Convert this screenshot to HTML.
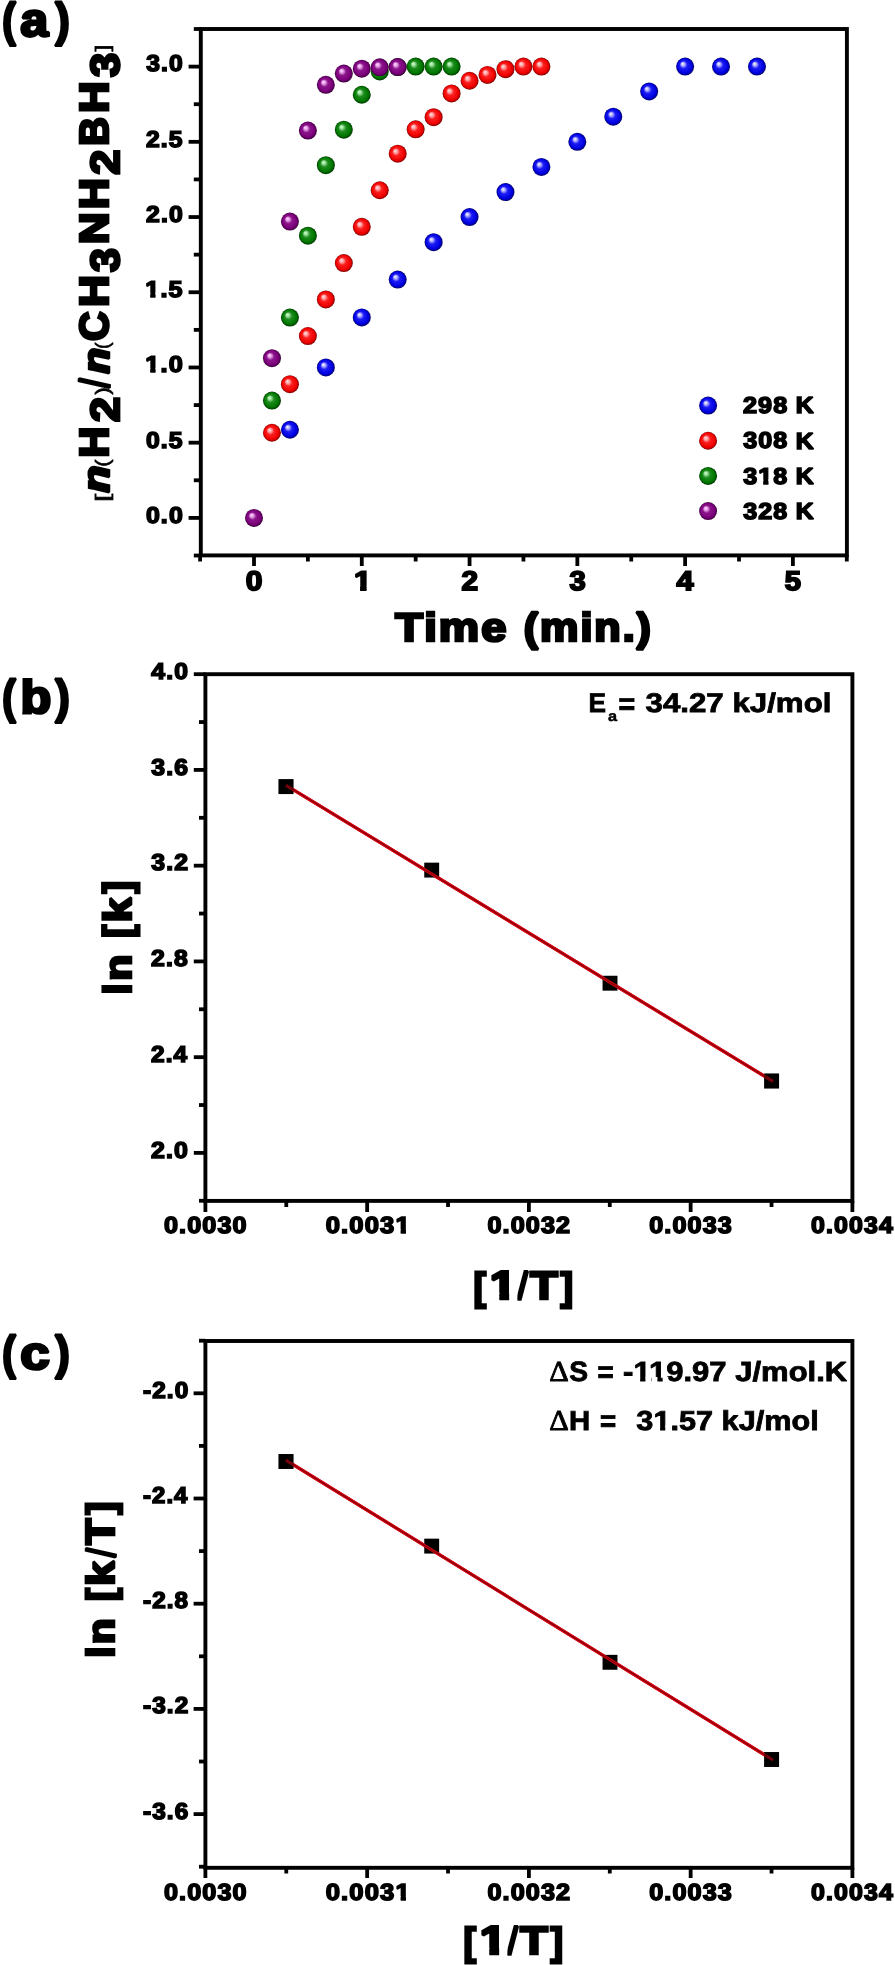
<!DOCTYPE html>
<html lang="en"><head><meta charset="utf-8"><title>Hydrogen generation kinetics: time course, Arrhenius and Eyring plots</title>
<style>
html,body{margin:0;padding:0;background:#fff}
svg{display:block}
text{stroke-linejoin:miter;stroke-miterlimit:1.5;white-space:pre}
</style></head>
<body>
<svg width="895" height="1965" viewBox="0 0 895 1965" text-rendering="geometricPrecision">
<rect width="895" height="1965" fill="#fff"/>
<filter id="soft" filterUnits="userSpaceOnUse" x="0" y="0" width="895" height="1965"><feGaussianBlur stdDeviation="0.5"/></filter>
<g filter="url(#soft)">
<defs>
<radialGradient id="gB" cx="50%" cy="50%" r="50%" fx="35%" fy="33%"><stop offset="0" stop-color="#f0f0ff"/><stop offset="0.13" stop-color="#d0d0ff"/><stop offset="0.27" stop-color="#8080ff"/><stop offset="0.42" stop-color="#1c1cf4"/><stop offset="0.8" stop-color="#0000e2"/><stop offset="0.92" stop-color="#00009c"/><stop offset="1" stop-color="#0c0c58"/></radialGradient>
<radialGradient id="gR" cx="50%" cy="50%" r="50%" fx="35%" fy="33%"><stop offset="0" stop-color="#ffd8dc"/><stop offset="0.13" stop-color="#ffc0c4"/><stop offset="0.27" stop-color="#ff8080"/><stop offset="0.42" stop-color="#fb2020"/><stop offset="0.8" stop-color="#f00000"/><stop offset="0.92" stop-color="#b40000"/><stop offset="1" stop-color="#6c0c0c"/></radialGradient>
<radialGradient id="gG" cx="50%" cy="50%" r="50%" fx="35%" fy="33%"><stop offset="0" stop-color="#c8ffc8"/><stop offset="0.13" stop-color="#b0f0b0"/><stop offset="0.27" stop-color="#70c070"/><stop offset="0.42" stop-color="#1c8c1c"/><stop offset="0.8" stop-color="#007600"/><stop offset="0.92" stop-color="#005000"/><stop offset="1" stop-color="#083408"/></radialGradient>
<radialGradient id="gP" cx="50%" cy="50%" r="50%" fx="35%" fy="33%"><stop offset="0" stop-color="#ffd0ff"/><stop offset="0.13" stop-color="#f8b8f8"/><stop offset="0.27" stop-color="#c878c8"/><stop offset="0.42" stop-color="#8c148c"/><stop offset="0.8" stop-color="#7a007a"/><stop offset="0.92" stop-color="#540054"/><stop offset="1" stop-color="#340834"/></radialGradient>
</defs>
<rect x="200.8" y="29.0" width="646.10" height="526.40" fill="none" stroke="#000" stroke-width="3.9"/>
<line x1="188.60" y1="517.90" x2="200.80" y2="517.90" stroke="#000" stroke-width="3.8"/>
<line x1="188.60" y1="442.68" x2="200.80" y2="442.68" stroke="#000" stroke-width="3.8"/>
<line x1="188.60" y1="367.47" x2="200.80" y2="367.47" stroke="#000" stroke-width="3.8"/>
<line x1="188.60" y1="292.25" x2="200.80" y2="292.25" stroke="#000" stroke-width="3.8"/>
<line x1="188.60" y1="217.04" x2="200.80" y2="217.04" stroke="#000" stroke-width="3.8"/>
<line x1="188.60" y1="141.82" x2="200.80" y2="141.82" stroke="#000" stroke-width="3.8"/>
<line x1="188.60" y1="66.61" x2="200.80" y2="66.61" stroke="#000" stroke-width="3.8"/>
<line x1="193.80" y1="555.51" x2="200.80" y2="555.51" stroke="#000" stroke-width="3.8"/>
<line x1="193.80" y1="480.29" x2="200.80" y2="480.29" stroke="#000" stroke-width="3.8"/>
<line x1="193.80" y1="405.08" x2="200.80" y2="405.08" stroke="#000" stroke-width="3.8"/>
<line x1="193.80" y1="329.86" x2="200.80" y2="329.86" stroke="#000" stroke-width="3.8"/>
<line x1="193.80" y1="254.65" x2="200.80" y2="254.65" stroke="#000" stroke-width="3.8"/>
<line x1="193.80" y1="179.43" x2="200.80" y2="179.43" stroke="#000" stroke-width="3.8"/>
<line x1="193.80" y1="104.22" x2="200.80" y2="104.22" stroke="#000" stroke-width="3.8"/>
<line x1="193.80" y1="29.00" x2="200.80" y2="29.00" stroke="#000" stroke-width="3.8"/>
<line x1="254.00" y1="555.40" x2="254.00" y2="566.00" stroke="#000" stroke-width="3.8"/>
<line x1="361.78" y1="555.40" x2="361.78" y2="566.00" stroke="#000" stroke-width="3.8"/>
<line x1="469.56" y1="555.40" x2="469.56" y2="566.00" stroke="#000" stroke-width="3.8"/>
<line x1="577.34" y1="555.40" x2="577.34" y2="566.00" stroke="#000" stroke-width="3.8"/>
<line x1="685.12" y1="555.40" x2="685.12" y2="566.00" stroke="#000" stroke-width="3.8"/>
<line x1="792.90" y1="555.40" x2="792.90" y2="566.00" stroke="#000" stroke-width="3.8"/>
<line x1="200.11" y1="555.40" x2="200.11" y2="561.50" stroke="#000" stroke-width="3.8"/>
<line x1="307.89" y1="555.40" x2="307.89" y2="561.50" stroke="#000" stroke-width="3.8"/>
<line x1="415.67" y1="555.40" x2="415.67" y2="561.50" stroke="#000" stroke-width="3.8"/>
<line x1="523.45" y1="555.40" x2="523.45" y2="561.50" stroke="#000" stroke-width="3.8"/>
<line x1="631.23" y1="555.40" x2="631.23" y2="561.50" stroke="#000" stroke-width="3.8"/>
<line x1="739.01" y1="555.40" x2="739.01" y2="561.50" stroke="#000" stroke-width="3.8"/>
<line x1="846.79" y1="555.40" x2="846.79" y2="561.50" stroke="#000" stroke-width="3.8"/>
<text transform="translate(145.88,522.74) scale(1.0829,1)" style="font-family:'Liberation Sans', sans-serif;font-size:23.01px;font-weight:bold;font-style:normal;letter-spacing:1.04px;" fill="#000" stroke="#000" stroke-width="1.56">0.0</text>
<text transform="translate(145.88,447.52) scale(1.0756,1)" style="font-family:'Liberation Sans', sans-serif;font-size:23.01px;font-weight:bold;font-style:normal;letter-spacing:1.04px;" fill="#000" stroke="#000" stroke-width="1.56">0.5</text>
<clipPath id="c1"><rect x="-60.00" y="-69.02" width="155.09" height="64.99"/><rect x="-60.00" y="2.38" width="155.09" height="43.63"/><rect x="-60.00" y="-4.03" width="59.87" height="6.41"/><rect x="4.59" y="-4.03" width="4.72" height="6.41"/><rect x="13.73" y="-4.03" width="81.36" height="6.41"/></clipPath>
<text transform="translate(145.24,372.31) scale(1.1016,1)" style="font-family:'Liberation Sans', sans-serif;font-size:23.01px;font-weight:bold;font-style:normal;letter-spacing:1.04px;" fill="#000" stroke="#000" stroke-width="1.56" clip-path="url(#c1)">1.0</text>
<clipPath id="c2"><rect x="-60.00" y="-69.02" width="155.09" height="64.99"/><rect x="-60.00" y="2.38" width="155.09" height="43.63"/><rect x="-60.00" y="-4.03" width="59.87" height="6.41"/><rect x="4.59" y="-4.03" width="4.72" height="6.41"/><rect x="13.73" y="-4.03" width="81.36" height="6.41"/></clipPath>
<text transform="translate(145.25,297.09) scale(1.0940,1)" style="font-family:'Liberation Sans', sans-serif;font-size:23.01px;font-weight:bold;font-style:normal;letter-spacing:1.04px;" fill="#000" stroke="#000" stroke-width="1.56" clip-path="url(#c2)">1.5</text>
<text transform="translate(146.00,221.88) scale(1.0793,1)" style="font-family:'Liberation Sans', sans-serif;font-size:23.01px;font-weight:bold;font-style:normal;letter-spacing:1.04px;" fill="#000" stroke="#000" stroke-width="1.56">2.0</text>
<text transform="translate(146.00,146.66) scale(1.0720,1)" style="font-family:'Liberation Sans', sans-serif;font-size:23.01px;font-weight:bold;font-style:normal;letter-spacing:1.04px;" fill="#000" stroke="#000" stroke-width="1.56">2.5</text>
<text transform="translate(146.25,71.45) scale(1.0720,1)" style="font-family:'Liberation Sans', sans-serif;font-size:23.01px;font-weight:bold;font-style:normal;letter-spacing:1.04px;" fill="#000" stroke="#000" stroke-width="1.56">3.0</text>
<text transform="translate(245.77,590.46) scale(1.1068,1)" style="font-family:'Liberation Sans', sans-serif;font-size:27.12px;font-weight:bold;font-style:normal;" fill="#000" stroke="#000" stroke-width="1.84">0</text>
<clipPath id="c3"><rect x="-60.00" y="-81.13" width="135.04" height="76.56"/><rect x="-60.00" y="2.52" width="135.04" height="51.57"/><rect x="-60.00" y="-4.58" width="59.98" height="7.10"/><rect x="5.39" y="-4.58" width="5.55" height="7.10"/><rect x="16.00" y="-4.58" width="59.04" height="7.10"/></clipPath>
<text transform="translate(353.89,590.33) scale(1.1561,1)" style="font-family:'Liberation Sans', sans-serif;font-size:27.04px;font-weight:bold;font-style:normal;" fill="#000" stroke="#000" stroke-width="1.84" clip-path="url(#c3)">1</text>
<text transform="translate(461.48,590.46) scale(1.0969,1)" style="font-family:'Liberation Sans', sans-serif;font-size:27.12px;font-weight:bold;font-style:normal;" fill="#000" stroke="#000" stroke-width="1.84">2</text>
<text transform="translate(569.55,590.46) scale(1.0776,1)" style="font-family:'Liberation Sans', sans-serif;font-size:27.12px;font-weight:bold;font-style:normal;" fill="#000" stroke="#000" stroke-width="1.84">3</text>
<text transform="translate(676.50,590.46) scale(1.1280,1)" style="font-family:'Liberation Sans', sans-serif;font-size:27.12px;font-weight:bold;font-style:normal;" fill="#000" stroke="#000" stroke-width="1.84">4</text>
<text transform="translate(784.82,590.46) scale(1.0776,1)" style="font-family:'Liberation Sans', sans-serif;font-size:27.12px;font-weight:bold;font-style:normal;" fill="#000" stroke="#000" stroke-width="1.84">5</text>
<text fill="#000" stroke="#000"><tspan x="395.29" y="640.69" textLength="113.12" lengthAdjust="spacingAndGlyphs" style="font-family:'Liberation Sans', sans-serif;font-size:39.97px;font-weight:bold;font-style:normal;letter-spacing:1.80px;" stroke-width="2.72">Time</tspan> <tspan x="523.72" y="640.69" textLength="129.22" lengthAdjust="spacingAndGlyphs" style="font-family:'Liberation Sans', sans-serif;font-size:39.97px;font-weight:bold;font-style:normal;letter-spacing:1.80px;" stroke-width="2.72">(min.)</tspan></text>
<circle cx="289.93" cy="429.75" r="9.0" fill="url(#gB)"/>
<circle cx="325.85" cy="367.47" r="9.0" fill="url(#gB)"/>
<circle cx="361.78" cy="317.38" r="9.0" fill="url(#gB)"/>
<circle cx="397.71" cy="279.62" r="9.0" fill="url(#gB)"/>
<circle cx="433.63" cy="242.16" r="9.0" fill="url(#gB)"/>
<circle cx="469.56" cy="217.04" r="9.0" fill="url(#gB)"/>
<circle cx="505.49" cy="192.07" r="9.0" fill="url(#gB)"/>
<circle cx="541.41" cy="166.95" r="9.0" fill="url(#gB)"/>
<circle cx="577.34" cy="141.82" r="9.0" fill="url(#gB)"/>
<circle cx="613.27" cy="116.70" r="9.0" fill="url(#gB)"/>
<circle cx="649.19" cy="91.43" r="9.0" fill="url(#gB)"/>
<circle cx="685.12" cy="66.61" r="9.0" fill="url(#gB)"/>
<circle cx="721.05" cy="66.61" r="9.0" fill="url(#gB)"/>
<circle cx="756.97" cy="66.61" r="9.0" fill="url(#gB)"/>
<circle cx="271.96" cy="432.76" r="9.0" fill="url(#gR)"/>
<circle cx="289.93" cy="384.17" r="9.0" fill="url(#gR)"/>
<circle cx="307.89" cy="336.03" r="9.0" fill="url(#gR)"/>
<circle cx="325.85" cy="299.48" r="9.0" fill="url(#gR)"/>
<circle cx="343.82" cy="263.07" r="9.0" fill="url(#gR)"/>
<circle cx="361.78" cy="226.82" r="9.0" fill="url(#gR)"/>
<circle cx="379.74" cy="190.26" r="9.0" fill="url(#gR)"/>
<circle cx="397.71" cy="153.71" r="9.0" fill="url(#gR)"/>
<circle cx="415.67" cy="129.34" r="9.0" fill="url(#gR)"/>
<circle cx="433.63" cy="117.15" r="9.0" fill="url(#gR)"/>
<circle cx="451.60" cy="93.39" r="9.0" fill="url(#gR)"/>
<circle cx="469.56" cy="80.75" r="9.0" fill="url(#gR)"/>
<circle cx="487.52" cy="74.88" r="9.0" fill="url(#gR)"/>
<circle cx="505.49" cy="69.17" r="9.0" fill="url(#gR)"/>
<circle cx="523.45" cy="66.61" r="9.0" fill="url(#gR)"/>
<circle cx="541.41" cy="66.61" r="9.0" fill="url(#gR)"/>
<circle cx="271.96" cy="400.56" r="9.0" fill="url(#gG)"/>
<circle cx="289.93" cy="317.53" r="9.0" fill="url(#gG)"/>
<circle cx="307.89" cy="235.69" r="9.0" fill="url(#gG)"/>
<circle cx="325.85" cy="165.14" r="9.0" fill="url(#gG)"/>
<circle cx="343.82" cy="129.64" r="9.0" fill="url(#gG)"/>
<circle cx="361.78" cy="94.74" r="9.0" fill="url(#gG)"/>
<circle cx="379.74" cy="71.42" r="9.0" fill="url(#gG)"/>
<circle cx="397.71" cy="67.06" r="9.0" fill="url(#gG)"/>
<circle cx="415.67" cy="66.61" r="9.0" fill="url(#gG)"/>
<circle cx="433.63" cy="66.61" r="9.0" fill="url(#gG)"/>
<circle cx="451.60" cy="66.61" r="9.0" fill="url(#gG)"/>
<circle cx="254.00" cy="517.90" r="9.0" fill="url(#gP)"/>
<circle cx="271.96" cy="358.14" r="9.0" fill="url(#gP)"/>
<circle cx="289.93" cy="221.55" r="9.0" fill="url(#gP)"/>
<circle cx="307.89" cy="130.54" r="9.0" fill="url(#gP)"/>
<circle cx="325.85" cy="84.81" r="9.0" fill="url(#gP)"/>
<circle cx="343.82" cy="73.53" r="9.0" fill="url(#gP)"/>
<circle cx="361.78" cy="68.72" r="9.0" fill="url(#gP)"/>
<circle cx="379.74" cy="67.36" r="9.0" fill="url(#gP)"/>
<circle cx="397.71" cy="67.06" r="9.0" fill="url(#gP)"/>
<circle cx="708.1" cy="405.60" r="9.0" fill="url(#gB)"/>
<text fill="#000" stroke="#000"><tspan x="742.90" y="413.24" textLength="45.54" lengthAdjust="spacingAndGlyphs" style="font-family:'Liberation Sans', sans-serif;font-size:23.01px;font-weight:bold;font-style:normal;letter-spacing:1.04px;" stroke-width="1.56">298</tspan> <tspan x="795.73" y="413.36" textLength="18.00" lengthAdjust="spacingAndGlyphs" style="font-family:'Liberation Sans', sans-serif;font-size:23.20px;font-weight:bold;font-style:normal;" stroke-width="1.58">K</tspan></text>
<circle cx="708.1" cy="440.75" r="9.0" fill="url(#gR)"/>
<text fill="#000" stroke="#000"><tspan x="743.15" y="448.39" textLength="45.28" lengthAdjust="spacingAndGlyphs" style="font-family:'Liberation Sans', sans-serif;font-size:23.01px;font-weight:bold;font-style:normal;letter-spacing:1.04px;" stroke-width="1.56">308</tspan> <tspan x="795.73" y="448.51" textLength="18.00" lengthAdjust="spacingAndGlyphs" style="font-family:'Liberation Sans', sans-serif;font-size:23.20px;font-weight:bold;font-style:normal;" stroke-width="1.58">K</tspan></text>
<circle cx="708.1" cy="475.90" r="9.0" fill="url(#gG)"/>
<clipPath id="c4"><rect x="703.15" y="437.27" width="150.58" height="42.24"/><rect x="703.15" y="485.92" width="150.58" height="20.94"/><rect x="703.15" y="479.51" width="55.02" height="6.41"/><rect x="763.25" y="479.51" width="5.15" height="6.41"/><rect x="773.16" y="479.51" width="80.58" height="6.41"/></clipPath>
<text fill="#000" stroke="#000" clip-path="url(#c4)"><tspan x="743.15" y="483.54" textLength="45.28" lengthAdjust="spacingAndGlyphs" style="font-family:'Liberation Sans', sans-serif;font-size:23.01px;font-weight:bold;font-style:normal;letter-spacing:1.04px;" stroke-width="1.56">318</tspan> <tspan x="795.73" y="483.66" textLength="18.00" lengthAdjust="spacingAndGlyphs" style="font-family:'Liberation Sans', sans-serif;font-size:23.20px;font-weight:bold;font-style:normal;" stroke-width="1.58">K</tspan></text>
<circle cx="708.1" cy="511.05" r="9.0" fill="url(#gP)"/>
<text fill="#000" stroke="#000"><tspan x="743.15" y="518.69" textLength="45.28" lengthAdjust="spacingAndGlyphs" style="font-family:'Liberation Sans', sans-serif;font-size:23.01px;font-weight:bold;font-style:normal;letter-spacing:1.04px;" stroke-width="1.56">328</tspan> <tspan x="795.73" y="518.81" textLength="18.00" lengthAdjust="spacingAndGlyphs" style="font-family:'Liberation Sans', sans-serif;font-size:23.20px;font-weight:bold;font-style:normal;" stroke-width="1.58">K</tspan></text>
<text fill="#000" stroke="#000"><tspan x="1.96" y="36.23" textLength="14.01" lengthAdjust="spacingAndGlyphs" style="font-family:'Liberation Sans', sans-serif;font-size:47.31px;font-weight:bold;font-style:normal;" stroke-width="2.37">(</tspan><tspan x="20.35" y="36.36" textLength="27.99" lengthAdjust="spacingAndGlyphs" style="font-family:'Liberation Sans', sans-serif;font-size:47.21px;font-weight:bold;font-style:normal;" stroke-width="2.83">a</tspan><tspan x="54.93" y="36.23" textLength="15.01" lengthAdjust="spacingAndGlyphs" style="font-family:'Liberation Sans', sans-serif;font-size:47.31px;font-weight:bold;font-style:normal;" stroke-width="2.37">)</tspan></text>
<text transform="translate(109.7,500) rotate(-90)" fill="#000" stroke="#000"><tspan x="-1.68" y="-0.33" textLength="7.97" lengthAdjust="spacingAndGlyphs" style="font-family:'Liberation Sans', sans-serif;font-size:19.48px;font-weight:normal;font-style:normal;" stroke-width="0.58">[</tspan><tspan x="7.35" y="-1.13" textLength="27.26" lengthAdjust="spacingAndGlyphs" style="font-family:'Liberation Sans', sans-serif;font-size:37.66px;font-weight:bold;font-style:italic;" stroke-width="2.56">n</tspan><tspan x="33.31" y="-0.33" textLength="7.33" lengthAdjust="spacingAndGlyphs" style="font-family:'Liberation Sans', sans-serif;font-size:19.48px;font-weight:normal;font-style:normal;" stroke-width="0.58">(</tspan><tspan x="42.26" y="-1.23" textLength="31.17" lengthAdjust="spacingAndGlyphs" style="font-family:'Liberation Sans', sans-serif;font-size:40.63px;font-weight:bold;font-style:normal;" stroke-width="2.76">H</tspan><tspan x="78.08" y="9.17" textLength="25.12" lengthAdjust="spacingAndGlyphs" style="font-family:'Liberation Sans', sans-serif;font-size:40.63px;font-weight:bold;font-style:normal;" stroke-width="2.76">2</tspan><tspan x="105.22" y="-0.33" textLength="7.44" lengthAdjust="spacingAndGlyphs" style="font-family:'Liberation Sans', sans-serif;font-size:19.48px;font-weight:normal;font-style:normal;" stroke-width="0.58">)</tspan><tspan x="112.26" y="-0.51" textLength="9.31" lengthAdjust="spacingAndGlyphs" style="font-family:'Liberation Sans', sans-serif;font-size:41.10px;font-weight:normal;font-style:normal;" stroke-width="3.08">/</tspan><tspan x="126.31" y="-1.13" textLength="25.98" lengthAdjust="spacingAndGlyphs" style="font-family:'Liberation Sans', sans-serif;font-size:37.66px;font-weight:bold;font-style:italic;" stroke-width="2.56">n</tspan><tspan x="151.12" y="-0.33" textLength="6.55" lengthAdjust="spacingAndGlyphs" style="font-family:'Liberation Sans', sans-serif;font-size:19.48px;font-weight:normal;font-style:normal;" stroke-width="0.58">(</tspan><tspan x="159.05" y="-1.23" textLength="29.67" lengthAdjust="spacingAndGlyphs" style="font-family:'Liberation Sans', sans-serif;font-size:40.63px;font-weight:bold;font-style:normal;" stroke-width="2.76">C</tspan><tspan x="192.93" y="-1.23" textLength="31.94" lengthAdjust="spacingAndGlyphs" style="font-family:'Liberation Sans', sans-serif;font-size:40.63px;font-weight:bold;font-style:normal;" stroke-width="2.76">H</tspan><tspan x="228.00" y="9.17" textLength="23.89" lengthAdjust="spacingAndGlyphs" style="font-family:'Liberation Sans', sans-serif;font-size:40.63px;font-weight:bold;font-style:normal;" stroke-width="2.76">3</tspan><tspan x="255.73" y="-1.23" textLength="31.94" lengthAdjust="spacingAndGlyphs" style="font-family:'Liberation Sans', sans-serif;font-size:40.63px;font-weight:bold;font-style:normal;" stroke-width="2.76">N</tspan><tspan x="290.86" y="-1.23" textLength="31.17" lengthAdjust="spacingAndGlyphs" style="font-family:'Liberation Sans', sans-serif;font-size:40.63px;font-weight:bold;font-style:normal;" stroke-width="2.76">H</tspan><tspan x="325.38" y="9.17" textLength="25.02" lengthAdjust="spacingAndGlyphs" style="font-family:'Liberation Sans', sans-serif;font-size:40.63px;font-weight:bold;font-style:normal;" stroke-width="2.76">2</tspan><tspan x="354.37" y="-1.23" textLength="28.65" lengthAdjust="spacingAndGlyphs" style="font-family:'Liberation Sans', sans-serif;font-size:40.63px;font-weight:bold;font-style:normal;" stroke-width="2.76">B</tspan><tspan x="386.94" y="-1.23" textLength="31.61" lengthAdjust="spacingAndGlyphs" style="font-family:'Liberation Sans', sans-serif;font-size:40.63px;font-weight:bold;font-style:normal;" stroke-width="2.76">H</tspan><tspan x="423.00" y="9.17" textLength="23.99" lengthAdjust="spacingAndGlyphs" style="font-family:'Liberation Sans', sans-serif;font-size:40.63px;font-weight:bold;font-style:normal;" stroke-width="2.76">3</tspan><tspan x="448.45" y="-0.33" textLength="6.98" lengthAdjust="spacingAndGlyphs" style="font-family:'Liberation Sans', sans-serif;font-size:19.48px;font-weight:normal;font-style:normal;" stroke-width="0.58">]</tspan></text>
<rect x="205.4" y="674.2" width="647.00" height="526.70" fill="none" stroke="#000" stroke-width="3.9"/>
<line x1="193.80" y1="1152.90" x2="205.40" y2="1152.90" stroke="#000" stroke-width="3.8"/>
<line x1="193.80" y1="1057.16" x2="205.40" y2="1057.16" stroke="#000" stroke-width="3.8"/>
<line x1="193.80" y1="961.41" x2="205.40" y2="961.41" stroke="#000" stroke-width="3.8"/>
<line x1="193.80" y1="865.67" x2="205.40" y2="865.67" stroke="#000" stroke-width="3.8"/>
<line x1="193.80" y1="769.92" x2="205.40" y2="769.92" stroke="#000" stroke-width="3.8"/>
<line x1="193.80" y1="674.18" x2="205.40" y2="674.18" stroke="#000" stroke-width="3.8"/>
<line x1="199.00" y1="1200.77" x2="205.40" y2="1200.77" stroke="#000" stroke-width="3.8"/>
<line x1="199.00" y1="1105.03" x2="205.40" y2="1105.03" stroke="#000" stroke-width="3.8"/>
<line x1="199.00" y1="1009.28" x2="205.40" y2="1009.28" stroke="#000" stroke-width="3.8"/>
<line x1="199.00" y1="913.54" x2="205.40" y2="913.54" stroke="#000" stroke-width="3.8"/>
<line x1="199.00" y1="817.80" x2="205.40" y2="817.80" stroke="#000" stroke-width="3.8"/>
<line x1="199.00" y1="722.05" x2="205.40" y2="722.05" stroke="#000" stroke-width="3.8"/>
<line x1="205.40" y1="1200.90" x2="205.40" y2="1212.00" stroke="#000" stroke-width="3.8"/>
<line x1="367.15" y1="1200.90" x2="367.15" y2="1212.00" stroke="#000" stroke-width="3.8"/>
<line x1="528.90" y1="1200.90" x2="528.90" y2="1212.00" stroke="#000" stroke-width="3.8"/>
<line x1="690.65" y1="1200.90" x2="690.65" y2="1212.00" stroke="#000" stroke-width="3.8"/>
<line x1="852.40" y1="1200.90" x2="852.40" y2="1212.00" stroke="#000" stroke-width="3.8"/>
<line x1="286.28" y1="1200.90" x2="286.28" y2="1207.00" stroke="#000" stroke-width="3.8"/>
<line x1="448.02" y1="1200.90" x2="448.02" y2="1207.00" stroke="#000" stroke-width="3.8"/>
<line x1="609.78" y1="1200.90" x2="609.78" y2="1207.00" stroke="#000" stroke-width="3.8"/>
<line x1="771.53" y1="1200.90" x2="771.53" y2="1207.00" stroke="#000" stroke-width="3.8"/>
<text transform="translate(151.00,1157.54) scale(1.0851,1)" style="font-family:'Liberation Sans', sans-serif;font-size:23.01px;font-weight:bold;font-style:normal;letter-spacing:1.04px;" fill="#000" stroke="#000" stroke-width="1.56">2.0</text>
<text transform="translate(151.00,1061.79) scale(1.0601,1)" style="font-family:'Liberation Sans', sans-serif;font-size:23.01px;font-weight:bold;font-style:normal;letter-spacing:1.04px;" fill="#000" stroke="#000" stroke-width="1.56">2.4</text>
<text transform="translate(151.00,966.05) scale(1.0779,1)" style="font-family:'Liberation Sans', sans-serif;font-size:23.01px;font-weight:bold;font-style:normal;letter-spacing:1.04px;" fill="#000" stroke="#000" stroke-width="1.56">2.8</text>
<text transform="translate(151.25,870.31) scale(1.0779,1)" style="font-family:'Liberation Sans', sans-serif;font-size:23.01px;font-weight:bold;font-style:normal;letter-spacing:1.04px;" fill="#000" stroke="#000" stroke-width="1.56">3.2</text>
<text transform="translate(151.25,774.56) scale(1.0779,1)" style="font-family:'Liberation Sans', sans-serif;font-size:23.01px;font-weight:bold;font-style:normal;letter-spacing:1.04px;" fill="#000" stroke="#000" stroke-width="1.56">3.6</text>
<text transform="translate(151.37,678.82) scale(1.0743,1)" style="font-family:'Liberation Sans', sans-serif;font-size:23.01px;font-weight:bold;font-style:normal;letter-spacing:1.04px;" fill="#000" stroke="#000" stroke-width="1.56">4.0</text>
<text transform="translate(163.92,1233.02) scale(1.0777,1)" style="font-family:'Liberation Sans', sans-serif;font-size:23.39px;font-weight:bold;font-style:normal;letter-spacing:1.05px;" fill="#000" stroke="#000" stroke-width="1.59">0.0030</text>
<clipPath id="c5"><rect x="-60.00" y="-70.18" width="197.87" height="66.10"/><rect x="-60.00" y="2.40" width="197.87" height="44.39"/><rect x="-60.00" y="-4.08" width="123.68" height="6.48"/><rect x="68.47" y="-4.08" width="4.80" height="6.48"/><rect x="77.75" y="-4.08" width="60.12" height="6.48"/></clipPath>
<text transform="translate(325.67,1233.02) scale(1.0956,1)" style="font-family:'Liberation Sans', sans-serif;font-size:23.39px;font-weight:bold;font-style:normal;letter-spacing:1.05px;" fill="#000" stroke="#000" stroke-width="1.59" clip-path="url(#c5)">0.0031</text>
<text transform="translate(487.42,1233.02) scale(1.0777,1)" style="font-family:'Liberation Sans', sans-serif;font-size:23.39px;font-weight:bold;font-style:normal;letter-spacing:1.05px;" fill="#000" stroke="#000" stroke-width="1.59">0.0032</text>
<text transform="translate(649.17,1233.02) scale(1.0777,1)" style="font-family:'Liberation Sans', sans-serif;font-size:23.39px;font-weight:bold;font-style:normal;letter-spacing:1.05px;" fill="#000" stroke="#000" stroke-width="1.59">0.0033</text>
<text transform="translate(810.93,1233.02) scale(1.0663,1)" style="font-family:'Liberation Sans', sans-serif;font-size:23.39px;font-weight:bold;font-style:normal;letter-spacing:1.05px;" fill="#000" stroke="#000" stroke-width="1.59">0.0034</text>
<line x1="285.80" y1="785.20" x2="773.00" y2="1081.40" stroke="#d8000f" stroke-width="3.2"/>
<rect x="278.55" y="779.15" width="14.9" height="14.9" fill="#000"/>
<rect x="424.25" y="862.65" width="14.9" height="14.9" fill="#000"/>
<rect x="602.55" y="975.75" width="14.9" height="14.9" fill="#000"/>
<rect x="764.15" y="1073.55" width="14.9" height="14.9" fill="#000"/>
<line x1="285.80" y1="785.20" x2="773.00" y2="1081.40" stroke="#d8000f" stroke-width="3.1"/>
<line x1="291.78" y1="788.84" x2="767.02" y2="1077.76" stroke="#4a0006" stroke-width="1.1" stroke-opacity="0.6"/>
<rect x="278.55" y="779.15" width="14.9" height="14.9" fill="#000" fill-opacity="0.45"/>
<rect x="764.15" y="1073.55" width="14.9" height="14.9" fill="#000" fill-opacity="0.45"/>
<text fill="#000" stroke="#000"><tspan x="588.39" y="712.34" textLength="17.49" lengthAdjust="spacingAndGlyphs" style="font-family:'Liberation Sans', sans-serif;font-size:27.03px;font-weight:bold;font-style:normal;" stroke-width="0.81">E</tspan><tspan x="608.04" y="721.38" textLength="9.07" lengthAdjust="spacingAndGlyphs" style="font-family:'Liberation Sans', sans-serif;font-size:14.66px;font-weight:bold;font-style:normal;" stroke-width="0.44">a</tspan><tspan x="618.39" y="713.55" textLength="16.70" lengthAdjust="spacingAndGlyphs" style="font-family:'Liberation Sans', sans-serif;font-size:30.00px;font-weight:bold;font-style:normal;" stroke-width="0.90">=</tspan> <tspan x="645.54" y="712.34" textLength="185.91" lengthAdjust="spacingAndGlyphs" style="font-family:'Liberation Sans', sans-serif;font-size:27.03px;font-weight:bold;font-style:normal;" stroke-width="0.81">34.27 kJ/mol</tspan></text>
<clipPath id="c6"><rect x="433.61" y="1218.78" width="179.41" height="73.86"/><rect x="433.61" y="1301.95" width="179.41" height="37.14"/><rect x="433.61" y="1292.63" width="56.83" height="9.32"/><rect x="499.35" y="1292.63" width="9.76" height="9.32"/><rect x="517.39" y="1292.63" width="95.63" height="9.32"/></clipPath>
<text fill="#000" stroke="#000" clip-path="url(#c6)"><tspan x="473.61" y="1299.54" textLength="12.51" lengthAdjust="spacingAndGlyphs" style="font-family:'Liberation Sans', sans-serif;font-size:38.98px;font-weight:bold;font-style:normal;" stroke-width="2.65">[</tspan><tspan x="489.86" y="1298.99" textLength="26.45" lengthAdjust="spacingAndGlyphs" style="font-family:'Liberation Sans', sans-serif;font-size:40.11px;font-weight:bold;font-style:normal;" stroke-width="2.73">1</tspan><tspan x="517.38" y="1299.05" textLength="10.25" lengthAdjust="spacingAndGlyphs" style="font-family:'Liberation Sans', sans-serif;font-size:38.16px;font-weight:normal;font-style:normal;" stroke-width="2.86">/</tspan><tspan x="530.18" y="1299.01" textLength="27.46" lengthAdjust="spacingAndGlyphs" style="font-family:'Liberation Sans', sans-serif;font-size:39.32px;font-weight:bold;font-style:normal;" stroke-width="2.67">T</tspan><tspan x="560.41" y="1299.54" textLength="12.61" lengthAdjust="spacingAndGlyphs" style="font-family:'Liberation Sans', sans-serif;font-size:38.98px;font-weight:bold;font-style:normal;" stroke-width="2.65">]</tspan></text>
<text transform="translate(132.3,993.2) rotate(-90)" fill="#000" stroke="#000"><tspan x="-1.24" y="-1.37" textLength="11.09" lengthAdjust="spacingAndGlyphs" style="font-family:'Liberation Sans', sans-serif;font-size:38.97px;font-weight:bold;font-style:normal;" stroke-width="2.65">l</tspan><tspan x="12.57" y="-1.14" textLength="26.18" lengthAdjust="spacingAndGlyphs" style="font-family:'Liberation Sans', sans-serif;font-size:37.99px;font-weight:bold;font-style:normal;" stroke-width="2.58">n</tspan> <tspan x="55.49" y="-0.98" textLength="12.81" lengthAdjust="spacingAndGlyphs" style="font-family:'Liberation Sans', sans-serif;font-size:39.48px;font-weight:bold;font-style:normal;" stroke-width="2.68">[</tspan><tspan x="71.02" y="-1.37" textLength="24.70" lengthAdjust="spacingAndGlyphs" style="font-family:'Liberation Sans', sans-serif;font-size:38.97px;font-weight:bold;font-style:normal;" stroke-width="2.65">k</tspan><tspan x="99.72" y="-0.98" textLength="12.71" lengthAdjust="spacingAndGlyphs" style="font-family:'Liberation Sans', sans-serif;font-size:39.48px;font-weight:bold;font-style:normal;" stroke-width="2.68">]</tspan></text>
<text fill="#000" stroke="#000"><tspan x="1.96" y="712.83" textLength="14.01" lengthAdjust="spacingAndGlyphs" style="font-family:'Liberation Sans', sans-serif;font-size:47.31px;font-weight:bold;font-style:normal;" stroke-width="2.37">(</tspan><tspan x="20.53" y="712.99" textLength="30.81" lengthAdjust="spacingAndGlyphs" style="font-family:'Liberation Sans', sans-serif;font-size:46.54px;font-weight:bold;font-style:normal;" stroke-width="2.79">b</tspan><tspan x="54.93" y="712.83" textLength="15.01" lengthAdjust="spacingAndGlyphs" style="font-family:'Liberation Sans', sans-serif;font-size:47.31px;font-weight:bold;font-style:normal;" stroke-width="2.37">)</tspan></text>
<rect x="205.4" y="1341.0" width="647.00" height="526.80" fill="none" stroke="#000" stroke-width="3.9"/>
<line x1="193.60" y1="1393.30" x2="205.40" y2="1393.30" stroke="#000" stroke-width="3.8"/>
<line x1="193.60" y1="1498.50" x2="205.40" y2="1498.50" stroke="#000" stroke-width="3.8"/>
<line x1="193.60" y1="1603.70" x2="205.40" y2="1603.70" stroke="#000" stroke-width="3.8"/>
<line x1="193.60" y1="1708.90" x2="205.40" y2="1708.90" stroke="#000" stroke-width="3.8"/>
<line x1="193.60" y1="1814.10" x2="205.40" y2="1814.10" stroke="#000" stroke-width="3.8"/>
<line x1="199.00" y1="1340.70" x2="205.40" y2="1340.70" stroke="#000" stroke-width="3.8"/>
<line x1="199.00" y1="1445.90" x2="205.40" y2="1445.90" stroke="#000" stroke-width="3.8"/>
<line x1="199.00" y1="1551.10" x2="205.40" y2="1551.10" stroke="#000" stroke-width="3.8"/>
<line x1="199.00" y1="1656.30" x2="205.40" y2="1656.30" stroke="#000" stroke-width="3.8"/>
<line x1="199.00" y1="1761.50" x2="205.40" y2="1761.50" stroke="#000" stroke-width="3.8"/>
<line x1="199.00" y1="1866.70" x2="205.40" y2="1866.70" stroke="#000" stroke-width="3.8"/>
<line x1="205.40" y1="1867.80" x2="205.40" y2="1878.00" stroke="#000" stroke-width="3.8"/>
<line x1="367.15" y1="1867.80" x2="367.15" y2="1878.00" stroke="#000" stroke-width="3.8"/>
<line x1="528.90" y1="1867.80" x2="528.90" y2="1878.00" stroke="#000" stroke-width="3.8"/>
<line x1="690.65" y1="1867.80" x2="690.65" y2="1878.00" stroke="#000" stroke-width="3.8"/>
<line x1="852.40" y1="1867.80" x2="852.40" y2="1878.00" stroke="#000" stroke-width="3.8"/>
<line x1="286.28" y1="1867.80" x2="286.28" y2="1873.50" stroke="#000" stroke-width="3.8"/>
<line x1="448.02" y1="1867.80" x2="448.02" y2="1873.50" stroke="#000" stroke-width="3.8"/>
<line x1="609.78" y1="1867.80" x2="609.78" y2="1873.50" stroke="#000" stroke-width="3.8"/>
<line x1="771.53" y1="1867.80" x2="771.53" y2="1873.50" stroke="#000" stroke-width="3.8"/>
<text transform="translate(142.98,1397.84) scale(1.0591,1)" style="font-family:'Liberation Sans', sans-serif;font-size:23.01px;font-weight:bold;font-style:normal;letter-spacing:1.04px;" fill="#000" stroke="#000" stroke-width="1.56">-2.0</text>
<text transform="translate(142.98,1503.04) scale(1.0395,1)" style="font-family:'Liberation Sans', sans-serif;font-size:23.01px;font-weight:bold;font-style:normal;letter-spacing:1.04px;" fill="#000" stroke="#000" stroke-width="1.56">-2.4</text>
<text transform="translate(142.98,1608.24) scale(1.0534,1)" style="font-family:'Liberation Sans', sans-serif;font-size:23.01px;font-weight:bold;font-style:normal;letter-spacing:1.04px;" fill="#000" stroke="#000" stroke-width="1.56">-2.8</text>
<text transform="translate(142.98,1713.44) scale(1.0591,1)" style="font-family:'Liberation Sans', sans-serif;font-size:23.01px;font-weight:bold;font-style:normal;letter-spacing:1.04px;" fill="#000" stroke="#000" stroke-width="1.56">-3.2</text>
<text transform="translate(142.98,1818.64) scale(1.0591,1)" style="font-family:'Liberation Sans', sans-serif;font-size:23.01px;font-weight:bold;font-style:normal;letter-spacing:1.04px;" fill="#000" stroke="#000" stroke-width="1.56">-3.6</text>
<text transform="translate(163.92,1900.12) scale(1.0777,1)" style="font-family:'Liberation Sans', sans-serif;font-size:23.39px;font-weight:bold;font-style:normal;letter-spacing:1.05px;" fill="#000" stroke="#000" stroke-width="1.59">0.0030</text>
<clipPath id="c7"><rect x="-60.00" y="-70.18" width="197.87" height="66.10"/><rect x="-60.00" y="2.40" width="197.87" height="44.39"/><rect x="-60.00" y="-4.08" width="123.68" height="6.48"/><rect x="68.47" y="-4.08" width="4.80" height="6.48"/><rect x="77.75" y="-4.08" width="60.12" height="6.48"/></clipPath>
<text transform="translate(325.67,1900.12) scale(1.0956,1)" style="font-family:'Liberation Sans', sans-serif;font-size:23.39px;font-weight:bold;font-style:normal;letter-spacing:1.05px;" fill="#000" stroke="#000" stroke-width="1.59" clip-path="url(#c7)">0.0031</text>
<text transform="translate(487.42,1900.12) scale(1.0777,1)" style="font-family:'Liberation Sans', sans-serif;font-size:23.39px;font-weight:bold;font-style:normal;letter-spacing:1.05px;" fill="#000" stroke="#000" stroke-width="1.59">0.0032</text>
<text transform="translate(649.17,1900.12) scale(1.0777,1)" style="font-family:'Liberation Sans', sans-serif;font-size:23.39px;font-weight:bold;font-style:normal;letter-spacing:1.05px;" fill="#000" stroke="#000" stroke-width="1.59">0.0033</text>
<text transform="translate(810.93,1900.12) scale(1.0663,1)" style="font-family:'Liberation Sans', sans-serif;font-size:23.39px;font-weight:bold;font-style:normal;letter-spacing:1.05px;" fill="#000" stroke="#000" stroke-width="1.59">0.0034</text>
<line x1="285.80" y1="1460.10" x2="773.00" y2="1760.00" stroke="#d8000f" stroke-width="3.2"/>
<rect x="278.55" y="1454.05" width="14.9" height="14.9" fill="#000"/>
<rect x="424.25" y="1538.65" width="14.9" height="14.9" fill="#000"/>
<rect x="602.55" y="1654.85" width="14.9" height="14.9" fill="#000"/>
<rect x="764.15" y="1752.05" width="14.9" height="14.9" fill="#000"/>
<line x1="285.80" y1="1460.10" x2="773.00" y2="1760.00" stroke="#d8000f" stroke-width="3.1"/>
<line x1="291.76" y1="1463.77" x2="767.04" y2="1756.33" stroke="#4a0006" stroke-width="1.1" stroke-opacity="0.6"/>
<rect x="278.55" y="1454.05" width="14.9" height="14.9" fill="#000" fill-opacity="0.45"/>
<rect x="764.15" y="1752.05" width="14.9" height="14.9" fill="#000" fill-opacity="0.45"/>
<clipPath id="c8"><rect x="509.19" y="1322.05" width="378.07" height="54.86"/><rect x="509.19" y="1383.05" width="378.07" height="29.00"/><rect x="509.19" y="1376.91" width="124.91" height="6.14"/><rect x="640.19" y="1376.91" width="5.19" height="6.14"/><rect x="651.06" y="1376.91" width="0.30" height="6.14"/><rect x="657.44" y="1376.91" width="5.19" height="6.14"/><rect x="668.31" y="1376.91" width="218.95" height="6.14"/></clipPath>
<text fill="#000" stroke="#000" clip-path="url(#c8)"><tspan x="549.19" y="1381.02" textLength="19.56" lengthAdjust="spacingAndGlyphs" style="font-family:'Liberation Serif', serif;font-size:28.99px;font-weight:normal;font-style:normal;" stroke-width="0.87">Δ</tspan><tspan x="569.22" y="1381.15" textLength="18.80" lengthAdjust="spacingAndGlyphs" style="font-family:'Liberation Sans', sans-serif;font-size:28.11px;font-weight:bold;font-style:normal;" stroke-width="0.84">S</tspan> <tspan x="597.41" y="1382.05" textLength="16.16" lengthAdjust="spacingAndGlyphs" style="font-family:'Liberation Sans', sans-serif;font-size:30.00px;font-weight:bold;font-style:normal;" stroke-width="0.90">=</tspan> <tspan x="623.08" y="1381.04" textLength="224.18" lengthAdjust="spacingAndGlyphs" style="font-family:'Liberation Sans', sans-serif;font-size:27.59px;font-weight:bold;font-style:normal;" stroke-width="0.83">-119.97 J/mol.K</tspan></text>
<clipPath id="c9"><rect x="509.19" y="1370.55" width="349.53" height="54.88"/><rect x="509.19" y="1431.55" width="349.53" height="29.00"/><rect x="509.19" y="1425.43" width="144.88" height="6.12"/><rect x="660.09" y="1425.43" width="5.13" height="6.12"/><rect x="670.85" y="1425.43" width="187.87" height="6.12"/></clipPath>
<text fill="#000" stroke="#000" clip-path="url(#c9)"><tspan x="549.19" y="1429.52" textLength="19.56" lengthAdjust="spacingAndGlyphs" style="font-family:'Liberation Serif', serif;font-size:28.84px;font-weight:normal;font-style:normal;" stroke-width="0.87">Δ</tspan><tspan x="568.93" y="1429.54" textLength="21.20" lengthAdjust="spacingAndGlyphs" style="font-family:'Liberation Sans', sans-serif;font-size:27.45px;font-weight:bold;font-style:normal;" stroke-width="0.82">H</tspan> <tspan x="600.11" y="1430.55" textLength="16.16" lengthAdjust="spacingAndGlyphs" style="font-family:'Liberation Sans', sans-serif;font-size:30.00px;font-weight:bold;font-style:normal;" stroke-width="0.90">=</tspan>  <tspan x="636.35" y="1429.54" textLength="182.37" lengthAdjust="spacingAndGlyphs" style="font-family:'Liberation Sans', sans-serif;font-size:27.45px;font-weight:bold;font-style:normal;" stroke-width="0.82">31.57 kJ/mol</tspan></text>
<clipPath id="c10"><rect x="423.61" y="1873.88" width="179.41" height="73.86"/><rect x="423.61" y="1957.05" width="179.41" height="37.14"/><rect x="423.61" y="1947.73" width="56.83" height="9.32"/><rect x="489.35" y="1947.73" width="9.76" height="9.32"/><rect x="507.39" y="1947.73" width="95.63" height="9.32"/></clipPath>
<text fill="#000" stroke="#000" clip-path="url(#c10)"><tspan x="463.61" y="1954.64" textLength="12.51" lengthAdjust="spacingAndGlyphs" style="font-family:'Liberation Sans', sans-serif;font-size:38.98px;font-weight:bold;font-style:normal;" stroke-width="2.65">[</tspan><tspan x="479.86" y="1954.09" textLength="26.45" lengthAdjust="spacingAndGlyphs" style="font-family:'Liberation Sans', sans-serif;font-size:40.11px;font-weight:bold;font-style:normal;" stroke-width="2.73">1</tspan><tspan x="507.38" y="1954.15" textLength="10.25" lengthAdjust="spacingAndGlyphs" style="font-family:'Liberation Sans', sans-serif;font-size:38.16px;font-weight:normal;font-style:normal;" stroke-width="2.86">/</tspan><tspan x="520.18" y="1954.11" textLength="27.46" lengthAdjust="spacingAndGlyphs" style="font-family:'Liberation Sans', sans-serif;font-size:39.32px;font-weight:bold;font-style:normal;" stroke-width="2.67">T</tspan><tspan x="550.41" y="1954.64" textLength="12.61" lengthAdjust="spacingAndGlyphs" style="font-family:'Liberation Sans', sans-serif;font-size:38.98px;font-weight:bold;font-style:normal;" stroke-width="2.65">]</tspan></text>
<text transform="translate(115.5,1656.6) rotate(-90)" fill="#000" stroke="#000"><tspan x="-1.25" y="-1.36" textLength="11.22" lengthAdjust="spacingAndGlyphs" style="font-family:'Liberation Sans', sans-serif;font-size:38.72px;font-weight:bold;font-style:normal;" stroke-width="2.63">l</tspan><tspan x="12.39" y="-1.15" textLength="25.85" lengthAdjust="spacingAndGlyphs" style="font-family:'Liberation Sans', sans-serif;font-size:38.16px;font-weight:bold;font-style:normal;" stroke-width="2.59">n</tspan> <tspan x="55.68" y="-1.24" textLength="13.01" lengthAdjust="spacingAndGlyphs" style="font-family:'Liberation Sans', sans-serif;font-size:38.88px;font-weight:bold;font-style:normal;" stroke-width="2.64">[</tspan><tspan x="70.82" y="-1.36" textLength="24.70" lengthAdjust="spacingAndGlyphs" style="font-family:'Liberation Sans', sans-serif;font-size:38.72px;font-weight:bold;font-style:normal;" stroke-width="2.63">k</tspan><tspan x="99.44" y="-0.93" textLength="9.16" lengthAdjust="spacingAndGlyphs" style="font-family:'Liberation Sans', sans-serif;font-size:39.63px;font-weight:normal;font-style:normal;" stroke-width="2.97">/</tspan><tspan x="111.93" y="-1.23" textLength="26.26" lengthAdjust="spacingAndGlyphs" style="font-family:'Liberation Sans', sans-serif;font-size:40.50px;font-weight:bold;font-style:normal;" stroke-width="2.75">T</tspan><tspan x="141.94" y="-1.24" textLength="13.01" lengthAdjust="spacingAndGlyphs" style="font-family:'Liberation Sans', sans-serif;font-size:38.88px;font-weight:bold;font-style:normal;" stroke-width="2.64">]</tspan></text>
<text fill="#000" stroke="#000"><tspan x="1.96" y="1369.23" textLength="14.01" lengthAdjust="spacingAndGlyphs" style="font-family:'Liberation Sans', sans-serif;font-size:47.31px;font-weight:bold;font-style:normal;" stroke-width="2.37">(</tspan><tspan x="20.33" y="1369.40" textLength="29.56" lengthAdjust="spacingAndGlyphs" style="font-family:'Liberation Sans', sans-serif;font-size:46.23px;font-weight:bold;font-style:normal;" stroke-width="2.77">c</tspan><tspan x="54.93" y="1369.23" textLength="15.01" lengthAdjust="spacingAndGlyphs" style="font-family:'Liberation Sans', sans-serif;font-size:47.31px;font-weight:bold;font-style:normal;" stroke-width="2.37">)</tspan></text>
</g>
</svg>
</body></html>
